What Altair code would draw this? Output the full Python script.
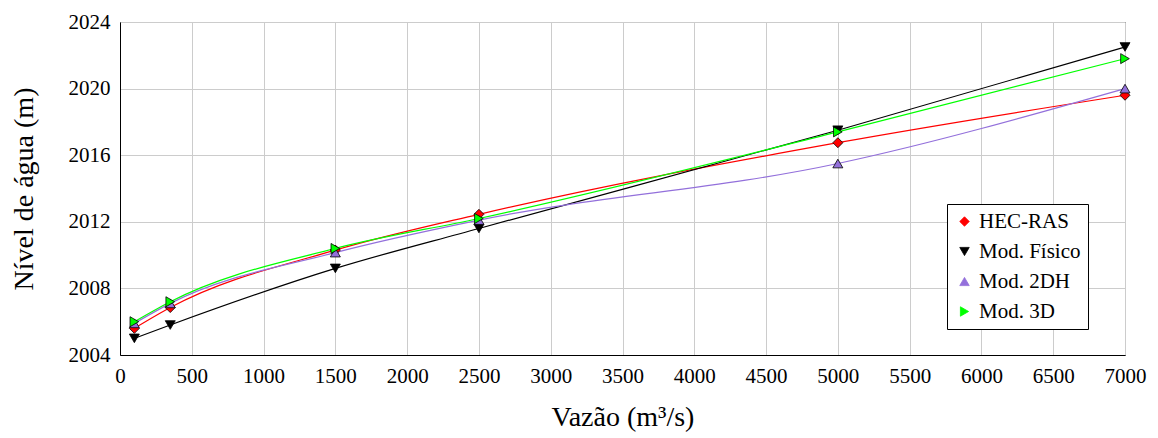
import altair as alt
import pandas as pd

vazao = [100, 350, 1500, 2500, 5000, 7000]
hec_ras = [2005.6, 2006.85, 2010.3, 2012.45, 2016.75, 2019.6]
mod_fisico = [2005.0, 2005.8, 2009.2, 2011.6, 2017.5, 2022.5]
mod_2dh = [2005.9, 2007.1, 2010.15, 2012.1, 2015.5, 2020.0]
mod_3d = [2006.0, 2007.2, 2010.4, 2012.2, 2017.4, 2021.8]

series = ["HEC-RAS", "Mod. Físico", "Mod. 2DH", "Mod. 3D"]
colors = ["#FF0000", "#000000", "#9370DB", "#00FF00"]
shapes = ["diamond", "triangle-down", "triangle-up", "triangle-right"]

rows = []
for name, vals in zip(series, [hec_ras, mod_fisico, mod_2dh, mod_3d]):
    for x, y in zip(vazao, vals):
        rows.append({"Vazao": x, "Nivel": y, "Serie": name})
df = pd.DataFrame(rows)

FONT = "Liberation Serif"

x_enc = alt.X("Vazao:Q", title="Vazão (m³/s)",
              scale=alt.Scale(domain=[0, 7000], nice=False),
              axis=alt.Axis(values=list(range(0, 7001, 500)), format="d",
                            titlePadding=17, labelPadding=10, labelFlush=False))
y_enc = alt.Y("Nivel:Q", title="Nível de água (m)",
              scale=alt.Scale(domain=[2004, 2024], nice=False, zero=False),
              axis=alt.Axis(values=list(range(2004, 2025, 4)), format="d",
                            titlePadding=30, labelPadding=10, labelFlush=False))

color_enc = alt.Color("Serie:N", scale=alt.Scale(domain=series, range=colors),
                      title="",
                      legend=alt.Legend(orient="none", legendX=827, legendY=182,
                                        symbolStrokeColor="black",
                                        symbolStrokeWidth=0.8,
                                        symbolSize=90))

lines = alt.Chart(df).mark_line(interpolate="monotone", strokeWidth=1.2).encode(
    x=x_enc, y=y_enc, color=color_enc,
)

points = alt.Chart(df).mark_point(filled=True, size=100, stroke="black",
                                  strokeWidth=0.8, opacity=1).encode(
    x=x_enc, y=y_enc, color=color_enc,
    shape=alt.Shape("Serie:N", scale=alt.Scale(domain=series, range=shapes),
                    title=""),
)

chart = (lines + points).properties(
    width=1005, height=333,
    autosize=alt.AutoSizeParams(type="none"),
    padding={"left": 120, "top": 22, "right": 33, "bottom": 83},
).configure_view(
    stroke="black", strokeWidth=1
).configure_axis(
    labelFont=FONT, titleFont=FONT, labelFontSize=21, titleFontSize=28,
    titleFontWeight="normal", labelColor="black", titleColor="black",
    gridColor="#cccccc", domainColor="black", ticks=False,
).configure_legend(
    fillColor="white", strokeColor="black", padding=7,
    symbolStrokeColor="black", symbolStrokeWidth=0.8, symbolSize=90,
    labelFontSize=21, labelFont=FONT, labelColor="black", labelOffset=4,
    rowPadding=8,
)

chart.save("out.html", embed_options={"renderer": "svg", "actions": False})
